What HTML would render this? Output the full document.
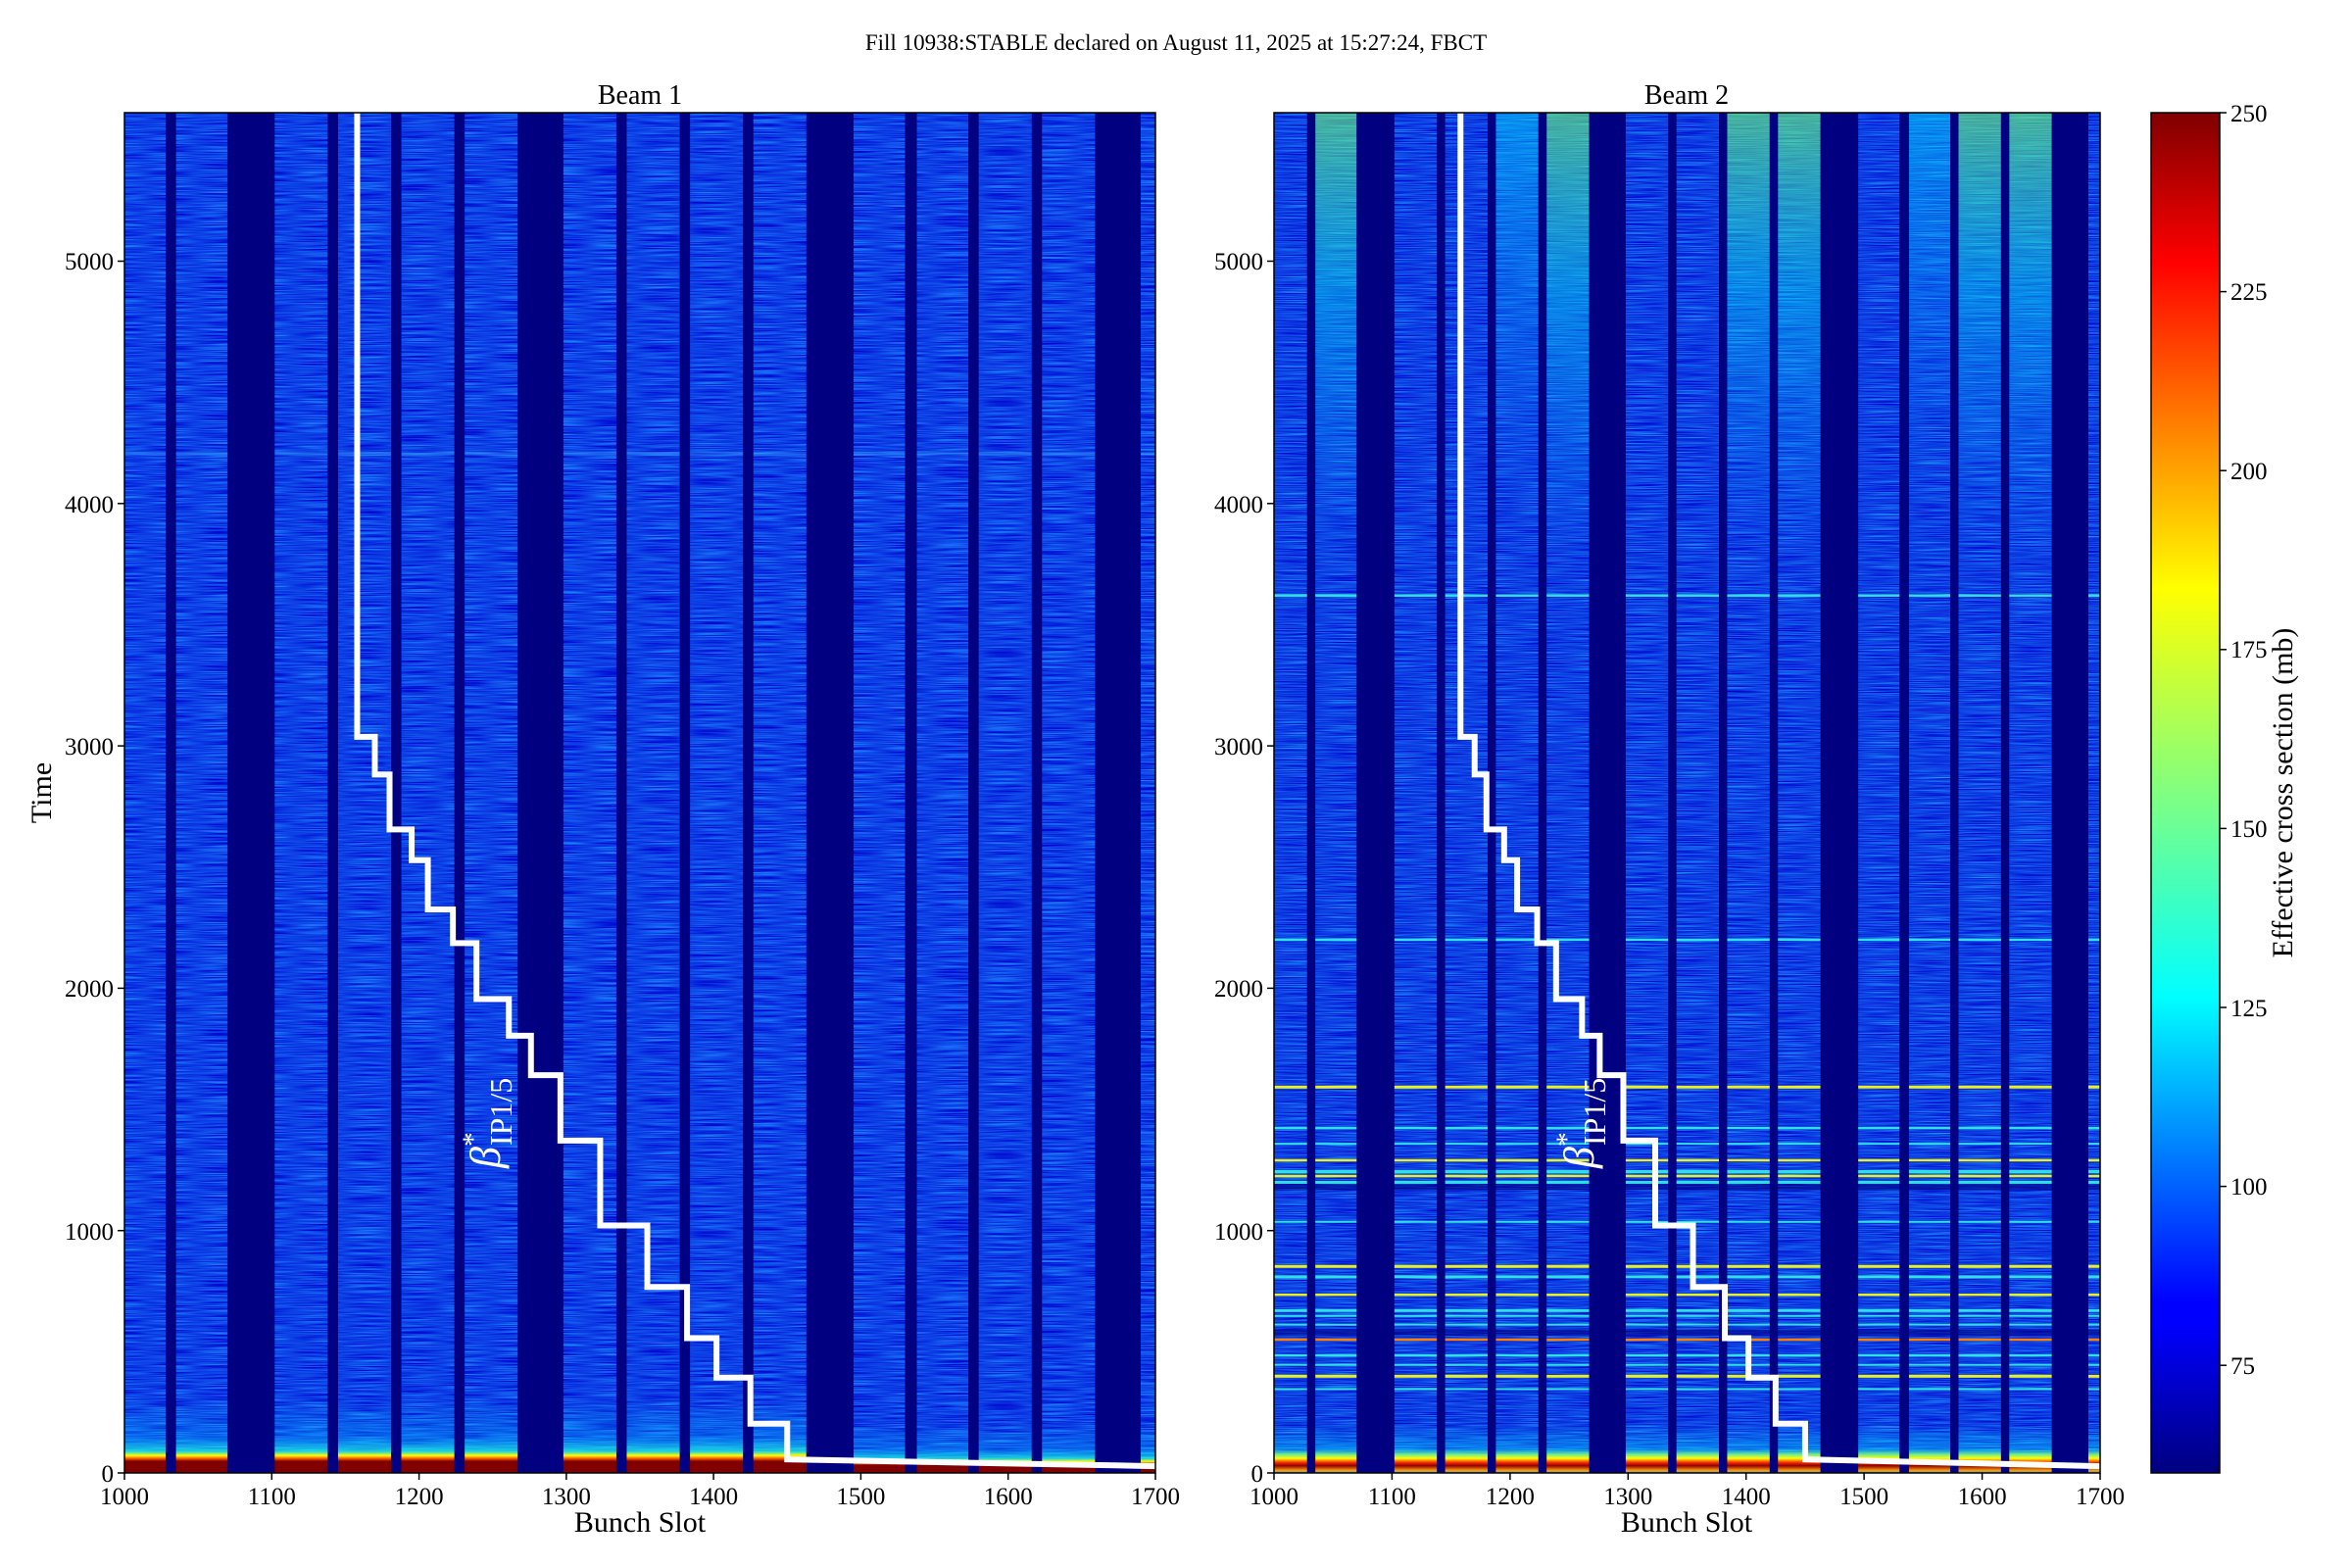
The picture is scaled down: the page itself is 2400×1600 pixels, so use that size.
<!DOCTYPE html>
<html><head><meta charset="utf-8"><style>
html,body{margin:0;padding:0;background:#fff;}
svg{display:block;font-family:"Liberation Serif","DejaVu Serif",serif;}
</style></head><body>
<svg width="2400" height="1600" viewBox="0 0 2400 1600" xmlns="http://www.w3.org/2000/svg">
<defs>
<filter id="nz" x="0" y="0" width="100%" height="100%" filterUnits="objectBoundingBox" color-interpolation-filters="sRGB">
<feTurbulence type="fractalNoise" baseFrequency="0.02 1.0" numOctaves="2" seed="3" result="t"/>
<feColorMatrix in="t" type="matrix" values="0.2 0 0 0 -0.05  0.9 0 0 0 -0.2  0.3 0 0 0 0.75  0 0 0 0 1"/>
</filter>
<filter id="nz2" x="0" y="0" width="100%" height="100%" filterUnits="objectBoundingBox" color-interpolation-filters="sRGB">
<feTurbulence type="fractalNoise" baseFrequency="0.02 1.1" numOctaves="2" seed="7" result="t"/>
<feColorMatrix in="t" type="matrix" values="0.2 0 0 0 -0.05  1.0 0 0 0 -0.25  0.3 0 0 0 0.74  0 0 0 0 1"/>
</filter>
<linearGradient id="jet" x1="0" y1="1" x2="0" y2="0">
<stop offset="0" stop-color="#000080"/><stop offset="0.11" stop-color="#0000ff"/>
<stop offset="0.125" stop-color="#0000ff"/><stop offset="0.35" stop-color="#00ffff"/>
<stop offset="0.5" stop-color="#80ff80"/><stop offset="0.65" stop-color="#ffff00"/>
<stop offset="0.89" stop-color="#ff0000"/><stop offset="1" stop-color="#800000"/>
</linearGradient>
<linearGradient id="bot1" x1="0" y1="0" x2="0" y2="1">
<stop offset="0" stop-color="#00ffff" stop-opacity="0"/>
<stop offset="0.5" stop-color="#00c0ff" stop-opacity="0.3"/>
<stop offset="0.7" stop-color="#20ffe0" stop-opacity="0.75"/>
<stop offset="0.76" stop-color="#ffff00"/>
<stop offset="0.8" stop-color="#ff6000"/>
<stop offset="0.84" stop-color="#800000"/>
<stop offset="1" stop-color="#800000"/>
</linearGradient>
<linearGradient id="bot2" x1="0" y1="0" x2="0" y2="1">
<stop offset="0" stop-color="#00ffff" stop-opacity="0"/>
<stop offset="0.5" stop-color="#00e0ff" stop-opacity="0.4"/>
<stop offset="0.62" stop-color="#80ff80" stop-opacity="0.9"/>
<stop offset="0.7" stop-color="#ffff00"/>
<stop offset="0.78" stop-color="#ff3000"/>
<stop offset="0.85" stop-color="#900000"/>
<stop offset="0.95" stop-color="#ffa000"/>
<stop offset="1" stop-color="#40a0ff"/>
</linearGradient>
<linearGradient id="top2" x1="0" y1="0" x2="0" y2="1">
<stop offset="0" stop-color="#70ff70" stop-opacity="0.6"/>
<stop offset="0.4" stop-color="#00f0f0" stop-opacity="0.4"/>
<stop offset="1" stop-color="#00a0ff" stop-opacity="0"/>
</linearGradient>
<linearGradient id="top2b" x1="0" y1="0" x2="0" y2="1">
<stop offset="0" stop-color="#00f0ff" stop-opacity="0.45"/>
<stop offset="1" stop-color="#00a0ff" stop-opacity="0"/>
</linearGradient>
</defs>

<text x="1200" y="51" font-size="23" text-anchor="middle">Fill 10938:STABLE declared on August 11, 2025 at 15:27:24, FBCT</text>

<!-- Beam 1 -->
<text x="653" y="106" font-size="28" text-anchor="middle">Beam 1</text>
<rect x="127" y="115" width="1052" height="1388" fill="#1840e0" filter="url(#nz)"/>
<svg x="127" y="115" width="1052" height="1388" viewBox="1000 0 700 5612" preserveAspectRatio="none">
<rect x="1000" y="1400" width="700" height="14" fill="#40c0ff" opacity="0.35"/>
<rect x="1000" y="5312" width="463" height="300" fill="url(#bot1)"/>
<rect x="1495" y="5412" width="205" height="200" fill="url(#bot1)"/>
<g fill="#000080">
<rect x="1028" y="0" width="7" height="5612"/><rect x="1070" y="0" width="32" height="5612"/>
<rect x="1138" y="0" width="7" height="5612"/><rect x="1181" y="0" width="7" height="5612"/>
<rect x="1224" y="0" width="7" height="5612"/><rect x="1267" y="0" width="31" height="5612"/>
<rect x="1334" y="0" width="7" height="5612"/><rect x="1377" y="0" width="7" height="5612"/>
<rect x="1420" y="0" width="7" height="5612"/><rect x="1463" y="0" width="32" height="5612"/>
<rect x="1530" y="0" width="8" height="5612"/><rect x="1573" y="0" width="7" height="5612"/>
<rect x="1616" y="0" width="7" height="5612"/><rect x="1659" y="0" width="31" height="5612"/>
</g>
<polyline fill="none" stroke="#fff" stroke-width="6" vector-effect="non-scaling-stroke" points="1158,0 1158,2575 1170,2575 1170,2730 1180,2730 1180,2957 1195,2957 1195,3084 1206,3084 1206,3287 1223,3287 1223,3426 1239,3426 1239,3657 1261,3657 1261,3808 1276,3808 1276,3971 1296,3971 1296,4241 1323,4241 1323,4591 1355,4591 1355,4845 1382,4845 1382,5056 1402,5056 1402,5219 1425,5219 1425,5409 1450,5409 1450,5556 1700,5584"/>
</svg>
<rect x="127" y="115" width="1052" height="1388" fill="none" stroke="#000" stroke-width="1.5"/>
<text transform="translate(510,1192) rotate(-90)" font-size="44" fill="#fff" font-style="italic">β<tspan dy="-18" font-size="30" font-style="normal">*</tspan><tspan dx="-14" dy="30" font-size="32" font-style="normal">IP1/5</tspan></text>
<g stroke="#000" stroke-width="1.5">
<line x1="127" y1="1503" x2="127" y2="1510"/><line x1="277.3" y1="1503" x2="277.3" y2="1510"/><line x1="427.6" y1="1503" x2="427.6" y2="1510"/><line x1="577.9" y1="1503" x2="577.9" y2="1510"/><line x1="728.1" y1="1503" x2="728.1" y2="1510"/><line x1="878.4" y1="1503" x2="878.4" y2="1510"/><line x1="1028.7" y1="1503" x2="1028.7" y2="1510"/><line x1="1179" y1="1503" x2="1179" y2="1510"/>
<line x1="120" y1="1503" x2="127" y2="1503"/><line x1="120" y1="1255.7" x2="127" y2="1255.7"/><line x1="120" y1="1008.4" x2="127" y2="1008.4"/><line x1="120" y1="761.1" x2="127" y2="761.1"/><line x1="120" y1="513.8" x2="127" y2="513.8"/><line x1="120" y1="266.5" x2="127" y2="266.5"/>
</g>
<g font-size="25" text-anchor="middle">
<text x="127" y="1535">1000</text><text x="277.3" y="1535">1100</text><text x="427.6" y="1535">1200</text><text x="577.9" y="1535">1300</text><text x="728.1" y="1535">1400</text><text x="878.4" y="1535">1500</text><text x="1028.7" y="1535">1600</text><text x="1179" y="1535">1700</text>
</g>
<g font-size="25" text-anchor="end">
<text x="116" y="1512">0</text><text x="116" y="1265">1000</text><text x="116" y="1017">2000</text><text x="116" y="770">3000</text><text x="116" y="523">4000</text><text x="116" y="275">5000</text>
</g>
<text x="653" y="1563" font-size="30" text-anchor="middle">Bunch Slot</text>
<text transform="translate(52,809) rotate(-90)" font-size="30" text-anchor="middle">Time</text>

<!-- Beam 2 -->
<text x="1721" y="106" font-size="28" text-anchor="middle">Beam 2</text>
<rect x="1300" y="115" width="843" height="1388" fill="#1840e0" filter="url(#nz2)"/>
<svg x="1300" y="115" width="843" height="1388" viewBox="1000 0 700 5612" preserveAspectRatio="none">
<rect x="1035" y="0" width="35" height="1900" fill="url(#top2)"/>
<rect x="1188" y="0" width="36" height="1700" fill="url(#top2b)"/>
<rect x="1231" y="0" width="36" height="1900" fill="url(#top2)"/>
<rect x="1384" y="0" width="36" height="1800" fill="url(#top2)"/>
<rect x="1427" y="0" width="36" height="1900" fill="url(#top2)"/>
<rect x="1538" y="0" width="35" height="1600" fill="url(#top2b)"/>
<rect x="1580" y="0" width="36" height="1800" fill="url(#top2)"/>
<rect x="1623" y="0" width="36" height="1900" fill="url(#top2)"/>
<g fill="#30e0e0">
<rect x="1000" y="1987" width="700" height="10"/><rect x="1000" y="3407" width="700" height="10"/>
<rect x="1000" y="4184" width="700" height="10"/><rect x="1000" y="4407" width="700" height="12"/>
<rect x="1000" y="4572" width="700" height="8"/><rect x="1000" y="4797" width="700" height="12"/>
<rect x="1000" y="4936" width="700" height="12"/><rect x="1000" y="4960" width="700" height="8"/>
<rect x="1000" y="4996" width="700" height="8"/><rect x="1000" y="5122" width="700" height="10"/>
<rect x="1000" y="5162" width="700" height="8"/><rect x="1000" y="5262" width="700" height="8"/>
<rect x="1000" y="4362" width="700" height="14"/><rect x="1000" y="4250" width="700" height="8"/>
</g>
<g fill="#e8f020">
<rect x="1000" y="4014" width="700" height="12"/><rect x="1000" y="4317" width="700" height="10"/>
<rect x="1000" y="4382" width="700" height="10"/><rect x="1000" y="4754" width="700" height="12"/>
<rect x="1000" y="4872" width="700" height="10"/><rect x="1000" y="5207" width="700" height="12"/>
</g>
<rect x="1000" y="5057" width="700" height="10" fill="#ff8000"/>
<g fill="#000080" opacity="0.6">
<rect x="1000" y="4420" width="700" height="25"/><rect x="1000" y="5020" width="700" height="25"/>
</g>
<rect x="1000" y="5412" width="700" height="200" fill="url(#bot2)"/>
<g fill="#000080">
<rect x="1028" y="0" width="7" height="5612"/><rect x="1070" y="0" width="32" height="5612"/>
<rect x="1138" y="0" width="7" height="5612"/><rect x="1181" y="0" width="7" height="5612"/>
<rect x="1224" y="0" width="7" height="5612"/><rect x="1267" y="0" width="31" height="5612"/>
<rect x="1334" y="0" width="7" height="5612"/><rect x="1377" y="0" width="7" height="5612"/>
<rect x="1420" y="0" width="7" height="5612"/><rect x="1463" y="0" width="32" height="5612"/>
<rect x="1530" y="0" width="8" height="5612"/><rect x="1573" y="0" width="7" height="5612"/>
<rect x="1616" y="0" width="7" height="5612"/><rect x="1659" y="0" width="31" height="5612"/>
</g>
<polyline fill="none" stroke="#fff" stroke-width="6" vector-effect="non-scaling-stroke" points="1158,0 1158,2575 1170,2575 1170,2730 1180,2730 1180,2957 1195,2957 1195,3084 1206,3084 1206,3287 1223,3287 1223,3426 1239,3426 1239,3657 1261,3657 1261,3808 1276,3808 1276,3971 1296,3971 1296,4241 1323,4241 1323,4591 1355,4591 1355,4845 1382,4845 1382,5056 1402,5056 1402,5219 1425,5219 1425,5409 1450,5409 1450,5556 1700,5584"/>
</svg>
<rect x="1300" y="115" width="843" height="1388" fill="none" stroke="#000" stroke-width="1.5"/>
<text transform="translate(1626,1192) rotate(-90)" font-size="44" fill="#fff" font-style="italic">β<tspan dy="-18" font-size="30" font-style="normal">*</tspan><tspan dx="-14" dy="30" font-size="32" font-style="normal">IP1/5</tspan></text>
<g stroke="#000" stroke-width="1.5">
<line x1="1300" y1="1503" x2="1300" y2="1510"/><line x1="1420.4" y1="1503" x2="1420.4" y2="1510"/><line x1="1540.9" y1="1503" x2="1540.9" y2="1510"/><line x1="1661.3" y1="1503" x2="1661.3" y2="1510"/><line x1="1781.7" y1="1503" x2="1781.7" y2="1510"/><line x1="1902.1" y1="1503" x2="1902.1" y2="1510"/><line x1="2022.6" y1="1503" x2="2022.6" y2="1510"/><line x1="2143" y1="1503" x2="2143" y2="1510"/>
<line x1="1293" y1="1503" x2="1300" y2="1503"/><line x1="1293" y1="1255.7" x2="1300" y2="1255.7"/><line x1="1293" y1="1008.4" x2="1300" y2="1008.4"/><line x1="1293" y1="761.1" x2="1300" y2="761.1"/><line x1="1293" y1="513.8" x2="1300" y2="513.8"/><line x1="1293" y1="266.5" x2="1300" y2="266.5"/>
</g>
<g font-size="25" text-anchor="middle">
<text x="1300" y="1535">1000</text><text x="1420.4" y="1535">1100</text><text x="1540.9" y="1535">1200</text><text x="1661.3" y="1535">1300</text><text x="1781.7" y="1535">1400</text><text x="1902.1" y="1535">1500</text><text x="2022.6" y="1535">1600</text><text x="2143" y="1535">1700</text>
</g>
<g font-size="25" text-anchor="end">
<text x="1289" y="1512">0</text><text x="1289" y="1265">1000</text><text x="1289" y="1017">2000</text><text x="1289" y="770">3000</text><text x="1289" y="523">4000</text><text x="1289" y="275">5000</text>
</g>
<text x="1721" y="1563" font-size="30" text-anchor="middle">Bunch Slot</text>

<!-- Colorbar -->
<rect x="2195" y="115" width="70" height="1388" fill="url(#jet)" stroke="#000" stroke-width="1.5"/>
<g stroke="#000" stroke-width="1.5">
<line x1="2265" y1="115" x2="2272" y2="115"/><line x1="2265" y1="297.6" x2="2272" y2="297.6"/><line x1="2265" y1="480.2" x2="2272" y2="480.2"/><line x1="2265" y1="662.8" x2="2272" y2="662.8"/><line x1="2265" y1="845.4" x2="2272" y2="845.4"/><line x1="2265" y1="1028" x2="2272" y2="1028"/><line x1="2265" y1="1210.6" x2="2272" y2="1210.6"/><line x1="2265" y1="1393.2" x2="2272" y2="1393.2"/>
</g>
<g font-size="25">
<text x="2276" y="124">250</text><text x="2276" y="306">225</text><text x="2276" y="489">200</text><text x="2276" y="671">175</text><text x="2276" y="854">150</text><text x="2276" y="1037">125</text><text x="2276" y="1219">100</text><text x="2276" y="1402">75</text>
</g>
<text transform="translate(2339,809) rotate(-90)" font-size="30" text-anchor="middle">Effective cross section (mb)</text>
</svg>
</body></html>
